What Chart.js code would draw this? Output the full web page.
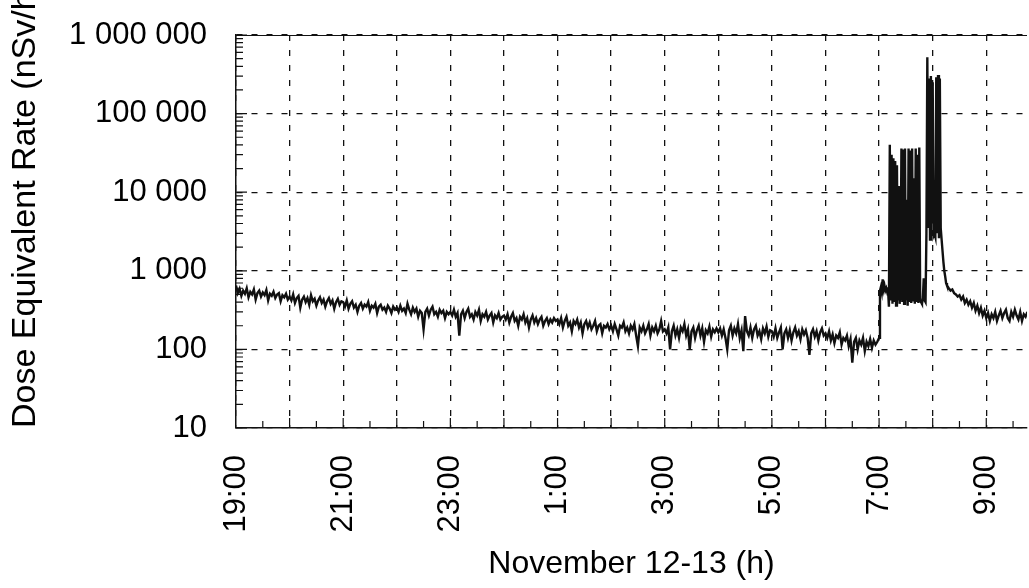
<!DOCTYPE html>
<html>
<head>
<meta charset="utf-8">
<script src="https://cdn.jsdelivr.net/npm/chart.js@4.4.1/dist/chart.umd.min.js"></script>
<style>
  html, body { margin: 0; padding: 0; background: #fff; }
</style>
</head>
<body>
<canvas id="doseChart" width="1029" height="588"></canvas>
<script>
// x is in hours after 19:00 on November 12
const nightStepMin = 2; // 19:00 .. 6:58, one value every 2 min (one row per hour)
const nightValues = [
  650, 520, 590, 480, 560, 510, 600, 460, 540, 500, 580, 430, 520, 560, 470, 530, 490, 570, 420, 510, 480, 540, 450, 500, 520, 410, 490, 460, 510, 430,
  470, 420, 500, 390, 450, 480, 340, 430, 470, 400, 450, 370, 490, 410, 440, 360, 420, 460, 390, 430, 350, 410, 450, 380, 420, 330, 400, 440, 370, 410,
  400, 350, 420, 330, 380, 410, 340, 370, 300, 360, 390, 330, 370, 350, 400, 310, 360, 340, 380, 290, 350, 370, 320, 340, 300, 360, 330, 290, 350, 320,
  340, 300, 360, 310, 330, 290, 380, 320, 280, 340, 300, 330, 260, 310, 290, 180, 300, 330, 270, 320, 350, 280, 300, 260, 320, 290, 310, 250, 300, 280,
  300, 270, 320, 260, 290, 150, 280, 310, 250, 300, 330, 260, 280, 240, 300, 270, 320, 230, 280, 260, 300, 240, 270, 290, 220, 270, 250, 290, 240, 260,
  270, 240, 280, 220, 260, 290, 230, 250, 200, 260, 240, 280, 220, 250, 190, 240, 270, 220, 250, 210, 240, 260, 200, 230, 250, 210, 240, 220, 250, 230,
  240, 210, 250, 190, 230, 260, 200, 220, 170, 230, 210, 240, 190, 220, 160, 210, 230, 190, 220, 180, 200, 230, 170, 200, 210, 160, 200, 190, 210, 180,
  200, 170, 210, 180, 150, 200, 190, 220, 170, 190, 160, 200, 180, 210, 150, 110, 190, 170, 200, 160, 180, 210, 150, 190, 170, 200, 160, 180, 230, 170,
  180, 160, 190, 100, 170, 200, 150, 180, 140, 190, 170, 210, 150, 180, 100, 170, 190, 140, 175, 200, 150, 185, 125, 175, 160, 195, 145, 180, 165, 185,
  165, 185, 150, 180, 140, 100, 175, 200, 150, 185, 160, 210, 140, 175, 95, 265, 170, 150, 190, 140, 180, 200, 150, 170, 135, 185, 160, 195, 145, 175,
  170, 145, 185, 140, 165, 190, 100, 160, 180, 140, 175, 130, 165, 190, 150, 170, 135, 180, 155, 175, 140, 85, 160, 180, 145, 170, 130, 165, 185, 150,
  160, 140, 170, 130, 155, 120, 150, 140, 165, 115, 140, 130, 150, 110, 135, 68, 125, 140, 100, 130, 115, 140, 95, 125, 110, 135, 105, 130, 115, 125
];

const burstStartHour = 12; // 7:00, one value every minute up to 8:15
const burstValues = [
  140, 560, 620, 540, 780, 580, 650, 560, 600, 540,
  580, 350, 40000, 420, 30000, 380, 27000, 400, 25000, 360,
  22000, 420, 12000, 380, 600, 36000, 400, 35000, 380, 36000,
  420, 8000, 360, 36000, 400, 34000, 390, 36000, 420, 15000,
  380, 36000, 400, 30000, 390, 37000, 420, 400, 380, 450,
  800, 420, 400, 3000, 520000, 3500, 280000, 2500, 300000, 4000,
  250000, 2800, 3000, 2700, 290000, 3000, 310000, 2600, 280000, 3500,
  2500, 1800, 1300, 1000, 850, 700
];

const tailStartMin = 76; // minutes after 7:00, one value every 2 min
const tailStepMin = 2;
const tailValues = [
  650, 600, 560, 580, 520, 500, 470, 490, 430, 470,
  390, 430, 370, 410, 340, 390, 310, 360, 290, 340,
  270, 310, 250, 290, 230, 280, 250, 300, 230, 270,
  310, 250, 290, 320, 250, 230, 300, 260, 320, 270,
  240, 300, 230, 280, 260, 300
];

const xTickLabels = ['19:00', '', '21:00', '', '23:00', '', '1:00', '', '3:00', '', '5:00', '', '7:00', '', '9:00'];
const xMaxHour = 14.76;
const yTicks = [10, 100, 1000, 10000, 100000, 1000000];
const yTickLabels = ['10', '100', '1 000', '10 000', '100 000', '1 000 000'];

const points = [];
nightValues.forEach((v, i) => points.push({ x: i * nightStepMin / 60, y: v }));
burstValues.forEach((v, i) => points.push({ x: burstStartHour + i / 60, y: v }));
tailValues.forEach((v, i) => points.push({ x: burstStartHour + (tailStartMin + i * tailStepMin) / 60, y: v }));

// inward ticks and the top frame line
const frameTicks = {
  id: 'frameTicks',
  afterDatasetsDraw(chart) {
    const { ctx, chartArea, scales } = chart;
    const xs = scales.x, ys = scales.y;
    ctx.save();
    ctx.strokeStyle = '#111';
    ctx.lineWidth = 1.2;
    ctx.beginPath();
    ctx.moveTo(chartArea.left, chartArea.top + 0.5);
    ctx.lineTo(chartArea.right, chartArea.top + 0.5);
    for (let i = 0; i < yTicks.length; i++) {
      const d = yTicks[i];
      const yp = ys.getPixelForValue(d);
      ctx.moveTo(chartArea.left, yp);
      ctx.lineTo(chartArea.left + 11, yp);
      if (i < yTicks.length - 1) {
        for (let k = 2; k <= 9; k++) {
          const y = ys.getPixelForValue(k * d);
          ctx.moveTo(chartArea.left, y);
          ctx.lineTo(chartArea.left + 7, y);
        }
      }
    }
    for (let h = 0.5; h < xMaxHour; h += 0.5) {
      const x = xs.getPixelForValue(h);
      const len = Number.isInteger(h) ? 10 : 7;
      ctx.moveTo(x, chartArea.bottom);
      ctx.lineTo(x, chartArea.bottom - len);
    }
    ctx.stroke();
    ctx.restore();
  }
};

const ctx = document.getElementById('doseChart').getContext('2d');
const doseChart = new Chart(ctx, {
  type: 'line',
  data: {
    datasets: [{
      label: 'Dose equivalent rate',
      data: points,
      borderColor: '#111',
      borderWidth: 2.4,
      pointRadius: 0,
      tension: 0,
      fill: false
    }]
  },
  options: {
    responsive: false,
    animation: false,
    devicePixelRatio: 1,
    layout: { padding: { top: 35, right: 2, left: 0, bottom: 0 } },
    plugins: { legend: { display: false }, tooltip: { enabled: false } },
    scales: {
      x: {
        type: 'linear',
        min: 0,
        max: xMaxHour,
        afterBuildTicks: (scale) => { scale.ticks = xTickLabels.map((_, i) => ({ value: i })); },
        afterFit: (scale) => {
          scale.height = 160;
          scale.paddingLeft = 0;
          scale.paddingRight = 0;
        },
        ticks: {
          autoSkip: false,
          minRotation: 90,
          maxRotation: 90,
          padding: 27,
          color: '#000',
          font: { family: 'Liberation Sans, Arial', size: 31 },
          callback: (v) => xTickLabels[v]
        },
        grid: { color: '#111', lineWidth: 1.3, drawTicks: false },
        border: { color: '#111', width: 1.5, dash: [6, 9] },
        title: {
          display: true,
          text: 'November 12-13 (h)',
          color: '#000',
          font: { family: 'Liberation Sans, Arial', size: 32 },
          padding: { top: 0, bottom: 5 }
        }
      },
      y: {
        type: 'logarithmic',
        min: 10,
        max: 1000000,
        afterBuildTicks: (scale) => { scale.ticks = yTicks.map(v => ({ value: v })); },
        afterFit: (scale) => {
          scale.width = 236;
          scale.paddingTop = 0;
          scale.paddingBottom = 0;
        },
        ticks: {
          padding: 29,
          color: '#000',
          font: { family: 'Liberation Sans, Arial', size: 31 },
          callback: (v) => yTickLabels[yTicks.indexOf(v)]
        },
        grid: { color: '#111', lineWidth: 1.3, drawTicks: false },
        border: { color: '#111', width: 1.5, dash: [6, 9] },
        title: {
          display: true,
          text: 'Dose Equivalent Rate (nSv/h)',
          align: 'start',
          color: '#000',
          font: { family: 'Liberation Sans, Arial', size: 34 },
          padding: { top: 5, bottom: 0 }
        }
      }
    }
  },
  plugins: [frameTicks]
});
</script>
</body>
</html>
